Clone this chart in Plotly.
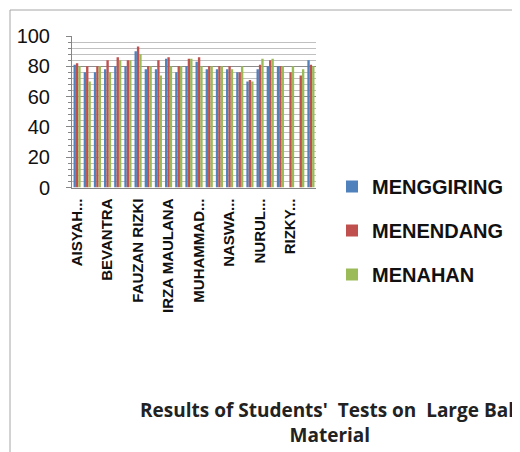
import plotly.graph_objects as go

# ---- data ----
tick_labels = ["AISYAH...", "BEVANTRA", "FAUZAN RIZKI", "IRZA MAULANA",
               "MUHAMMAD...", "NASWA...", "NURUL...", "RIZKY..."]
menggiring = [81, 76, 76, 78, 80, 80, 90, 78, 78, 85, 76, 80, 83, 78, 78, 78, 76, 70, 78, 80, 80, None, None, 84]
menendang = [82, 80, 80, 84, 86, 84, 93, 80, 84, 86, 80, 85, 86, 80, 80, 80, 76, 71, 81, 84, 80, 76, 74, 81]
menahan = [80, 70, 80, 76, 84, 84, 88, 80, 74, 80, 80, 85, 80, 80, 80, 78, 80, 70, 85, 85, 80, 80, 78, 80]
series = [("MENGGIRING", menggiring, "#4F81BD"),
          ("MENENDANG", menendang, "#C0504D"),
          ("MENAHAN", menahan, "#9BBB59")]

W, H = 520, 452
OFF = 8  # page body margin
xs = list(range(len(menendang)))

fig = go.Figure()
for i, (name, vals, col) in enumerate(series):
    fig.add_trace(go.Bar(x=xs, y=vals, name=name, marker=dict(color=col, line=dict(width=0)),
                         legendgroup=str(i)))

def px(v):
    return (v - OFF) / W

def py(v):
    return 1 - (v - OFF) / H

fig.update_layout(
    width=W, height=H,
    margin=dict(l=0, r=0, t=0, b=0, autoexpand=False),
    paper_bgcolor="white", plot_bgcolor="white",
    barmode="group", bargap=0.3, bargroupgap=0,
    font=dict(family="Liberation Sans", color="#000000"),
    showlegend=True,
    legend=dict(x=px(332), y=py(167), xanchor="left", yanchor="top",
                font=dict(size=20, family="Liberation Sans", weight="bold", color="#111"),
                tracegroupgap=15, itemwidth=30,
                bgcolor="rgba(0,0,0,0)"),
    xaxis=dict(domain=[px(72), px(316)], range=[-0.5, len(xs) - 0.5], automargin=False,
               tickmode="array", tickvals=xs[::3], ticktext=tick_labels,
               tickangle=-90, tickfont=dict(size=15, family="Liberation Sans", weight="bold", color="#111"),
               showline=True, linecolor="#868686", linewidth=1,
               showgrid=False, zeroline=False, ticks="", ticklabelstandoff=4),
    yaxis=dict(domain=[py(187.5), py(36)], range=[0, 100], dtick=20, automargin=False,
               tickfont=dict(size=20, family="Liberation Sans", color="#111"),
               showline=True, linecolor="#868686", linewidth=1,
               showgrid=True, gridcolor="#8c8c8c", gridwidth=1,
               ticks="outside", ticklen=5, tickcolor="#868686", ticklabelstandoff=12,
               zeroline=False,
               minor=dict(dtick=4, showgrid=True, gridcolor="#c0c0c0", gridwidth=1,
                          ticks="outside", ticklen=3, tickcolor="#868686")),
    shapes=[dict(type="rect", xref="paper", yref="paper",
                 x0=px(10), y0=-0.05, x1=1.05, y1=py(10),
                 line=dict(color="#a6a6a6", width=1), layer="below")],
    annotations=[dict(text="Results of Students'  Tests on  Large Ball<br>Material",
                      xref="paper", yref="paper", x=px(330), y=py(422),
                      xanchor="center", yanchor="middle", showarrow=False,
                      font=dict(size=19, family="Open Sans", weight="bold", color="#222"),
                      align="center")],
)

fig.write_html("out.html")
